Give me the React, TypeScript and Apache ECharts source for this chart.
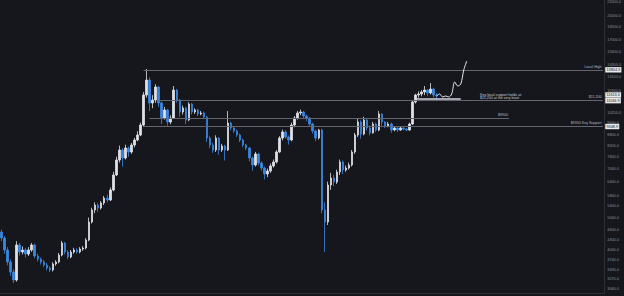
import React, { useEffect, useRef } from 'react';
import * as echarts from 'echarts';

// ---- data ----
const firstOpen = 4528;
const closes = [
  4345, 4001, 3685, 3439, 3255, 4141, 3946, 4001, 3892, 4001,
  4141, 3839, 3760, 3685, 3610, 3536, 3487, 3635, 3685, 3865,
  4198, 3946, 3813, 3946, 4001, 3946, 4028, 4056, 4286, 4849,
  5267, 5451, 5340, 5527, 5720, 5641, 6043, 6700, 7427, 7955,
  7530, 8066, 7846, 8234, 8521, 8819, 9447, 11610, 12870, 10989,
  11218, 12267, 10989, 9912, 10473, 9643, 9912, 12016, 11218, 10330,
  10618, 9777, 10914, 10330, 10473, 10188, 10259, 9980, 8639, 8234,
  7955, 8639, 7955, 8178, 7955, 9577, 9254, 9066, 8819, 8521,
  8234, 8066, 7530, 7176, 7739, 7276, 7029, 6746, 6886, 7127,
  7326, 7846, 8639, 9003, 8699, 8521, 9447, 9912, 10259, 10330,
  10049, 9912, 9512, 9066, 8639, 9128, 5267, 4849, 6254, 6563,
  6385, 6839, 7326, 6933, 7029, 7176, 7846, 8819, 9643, 8880,
  9777, 9254, 8941, 9512, 9128, 10188, 9643, 9383, 9512, 9128,
  9254, 9128, 9254, 9191, 9128, 9512, 11065, 11610, 11691, 11852,
  12016, 11771, 12098, 11610, 11531,
];
const highs = [
  4600, 4400, 4080, 3750, 3500, 4250, 4200, 4100, 4060, 4080,
  4200, 4180, 3900, 3800, 3740, 3660, 3580, 3680, 3730, 3920,
  4260, 4230, 3990, 4000, 4060, 4050, 4080, 4110, 4340, 5000,
  5350, 5550, 5520, 5600, 5800, 5850, 6150, 6850, 7600, 8200,
  8050, 8250, 8150, 8350, 8650, 9050, 9600, 11850, 13882, 13100,
  11600, 12500, 12350, 11100, 10700, 10550, 10100, 12350, 12100, 11300,
  10800, 10700, 11050, 10990, 10600, 10550, 10400, 10350, 10050, 8750,
  8350, 8800, 8700, 8300, 8250, 10400, 9650, 9380, 9150, 8900,
  8600, 8300, 8120, 7600, 7850, 7800, 7350, 7100, 7000, 7250,
  7450, 7950, 8750, 9150, 9100, 8800, 9600, 10050, 10400, 10500,
  10400, 10150, 9980, 9600, 9150, 9200, 9200, 5550, 6400, 6800,
  6700, 6950, 7450, 7400, 7150, 7300, 7950, 8950, 9850, 9750,
  10000, 9850, 9400, 9650, 9600, 10400, 10250, 9700, 9650, 9600,
  9350, 9300, 9330, 9300, 9250, 9600, 11200, 11700, 11900, 12000,
  12350, 12100, 12600, 12200, 11750,
];
const lows = [
  4250, 3900, 3600, 3350, 3189, 3220, 3850, 3880, 3800, 3840,
  3950, 3780, 3700, 3620, 3560, 3480, 3440, 3450, 3590, 3650,
  3830, 3880, 3760, 3780, 3900, 3900, 3910, 3980, 4020, 4250,
  4800, 5150, 5200, 5280, 5450, 5550, 5600, 5990, 6650, 7300,
  7100, 7450, 7600, 7750, 8100, 8450, 8750, 9350, 11400, 10400,
  10600, 11000, 10700, 9500, 9800, 9400, 9500, 9850, 11000, 10000,
  10150, 9500, 9700, 10150, 10200, 10050, 10100, 9850, 8400, 8050,
  7800, 7850, 7700, 7850, 7400, 7900, 9100, 8950, 8700, 8400,
  8100, 7950, 7350, 6900, 7100, 7150, 6900, 6500, 6600, 6800,
  7050, 7250, 7800, 8500, 8600, 8250, 8450, 9300, 9800, 10100,
  9900, 9700, 9400, 8900, 8450, 8550, 5150, 3946, 4750, 6050,
  6200, 6300, 6700, 6750, 6850, 6950, 7100, 7750, 8700, 8600,
  8800, 9100, 8800, 8900, 9000, 9050, 9400, 9250, 9300, 8950,
  9050, 9000, 9080, 9100, 9050, 9080, 9450, 10950, 11400, 11500,
  11600, 11500, 11650, 11400, 11300,
];

// hand-drawn projection after the last candle
const projectionStart = 144;
const projection = [11531, 11691, 11452, 11531, 11452, 11691, 12696, 12351, 12522, 13787, 14667];

const totalSlots = 200;

const yTickValues = [
  22000, 20000, 18500, 17000, 15600, 14300, 13100, 11900, 10250, 9600, 8800, 8200,
  7600, 7000, 6400, 5800, 5400, 5000, 4600, 4300, 4000, 3740, 3490, 3270, 3060,
];

// drawn horizontal levels
const levelNames = ['Local High', '$11,200', '$9900', '$9350 Key Support'];
const levelValues = [13804.3, 11166.9, 9900, 9348.9];
const levelFrom = [47, 52, 49, 47];
const levelTo = [199, 199, 168, 199];
const levelBoxes = ['13804.3', '11166.9', '', '9348.9'];

const holdLevel = 11295;
const holdFrom = 137;
const holdTo = 152;

const lastPrice = 11613.0;

const annotation = ['Key local support holds at', '$11,200 at the very least'];

const BG = '#15171d';
const FONT = 'Liberation Sans, Arial, sans-serif';

export default function App() {
  const ref = useRef<HTMLDivElement>(null);

  useEffect(() => {
    if (!ref.current) return;
    const chart = echarts.init(ref.current, undefined, { renderer: 'svg' });

    const categories = Array.from({ length: totalSlots }, (_, i) => String(i));
    const candles = closes.map((c, i) => [i === 0 ? firstOpen : closes[i - 1], c, lows[i], highs[i]]);
    const projData: (number | null)[] = categories.map(() => null);
    projection.forEach((v, k) => {
      projData[projectionStart + k] = v;
    });

    const lineStyle = { color: '#62656e', width: 1.2, type: 'solid' as const };
    const boxLabel = (text: string) => ({
      show: true,
      position: 'end',
      formatter: text,
      color: '#111',
      backgroundColor: '#e9eaec',
      padding: [0.8, 1.2, 0.6, 1.2],
      fontSize: 3.8,
      distance: 2.5,
      fontFamily: FONT,
    });
    const markData: any[] = [];
    levelValues.forEach((v, k) => {
      markData.push([
        {
          coord: [String(levelFrom[k]), v],
          lineStyle,
          label: {
            show: true,
            position: 'insideEndTop',
            formatter: levelNames[k],
            color: '#b8bbc2',
            fontSize: 3.6,
            distance: 1.2,
            fontFamily: FONT,
          },
        },
        { coord: [String(levelTo[k]), v] },
      ]);
    });
    const boxValues = [...levelValues.filter((_, k) => levelBoxes[k]), lastPrice];
    const boxTexts = [...levelBoxes.filter((b) => b), lastPrice.toFixed(1)];
    boxValues.forEach((v, k) => {
      markData.push([
        {
          coord: [String(totalSlots - 2), v],
          lineStyle: { color: 'rgba(0,0,0,0)', width: 0.1, type: 'solid' },
          label: boxLabel(boxTexts[k]),
        },
        { coord: [String(totalSlots - 1), v] },
      ]);
    });
    markData.push([
      {
        coord: [String(holdFrom), holdLevel],
        lineStyle: { color: '#d4d6dc', width: 1.6, type: 'solid' },
        label: { show: false },
      },
      { coord: [String(holdTo), holdLevel] },
    ]);

    chart.setOption({
      animation: false,
      backgroundColor: BG,
      grid: { left: 0, right: 19, top: 0, bottom: 3 },
      xAxis: {
        type: 'category',
        data: categories,
        boundaryGap: true,
        axisLine: { show: true, lineStyle: { color: '#2c2f38' } },
        axisTick: { show: false },
        axisLabel: { show: false },
        splitLine: { show: false },
      },
      yAxis: {
        type: 'log',
        logBase: 10,
        position: 'right',
        min: 2977,
        max: 22305,
        axisLine: { show: true, lineStyle: { color: '#2c2f38' } },
        axisTick: { show: false },
        splitLine: { show: false },
        axisLabel: {
          customValues: yTickValues,
          formatter: (v: number) => v.toFixed(1),
          color: '#8e919a',
          fontSize: 3.8,
          margin: 3,
          fontFamily: FONT,
        },
      },
      series: [
        {
          type: 'candlestick',
          data: candles,
          barWidth: 2,
          itemStyle: {
            color: '#dfe1e6',
            color0: '#3a86e0',
            borderColor: '#dfe1e6',
            borderColor0: '#3a86e0',
            borderWidth: 0.8,
          },
          markLine: {
            silent: true,
            symbol: ['none', 'none'],
            animation: false,
            data: markData,
          },
        },
        {
          type: 'line',
          data: projData,
          smooth: 0.35,
          showSymbol: false,
          connectNulls: false,
          lineStyle: { color: '#e8e9ec', width: 1 },
          z: 5,
        },
      ],
      graphic: [
        {
          type: 'text',
          left: 480,
          top: 92.5,
          style: {
            text: annotation.join('\n'),
            fontSize: 3.6,
            lineHeight: 3.8,
            fill: '#c9cbd1',
            fontFamily: FONT,
          },
        },
      ],
    });

    return () => chart.dispose();
  }, []);

  return (
    <div style={{ position: 'fixed', left: 0, top: 0, width: 624, height: 296, background: BG }}>
      <div ref={ref} style={{ width: 624, height: 296 }} />
    </div>
  );
}
